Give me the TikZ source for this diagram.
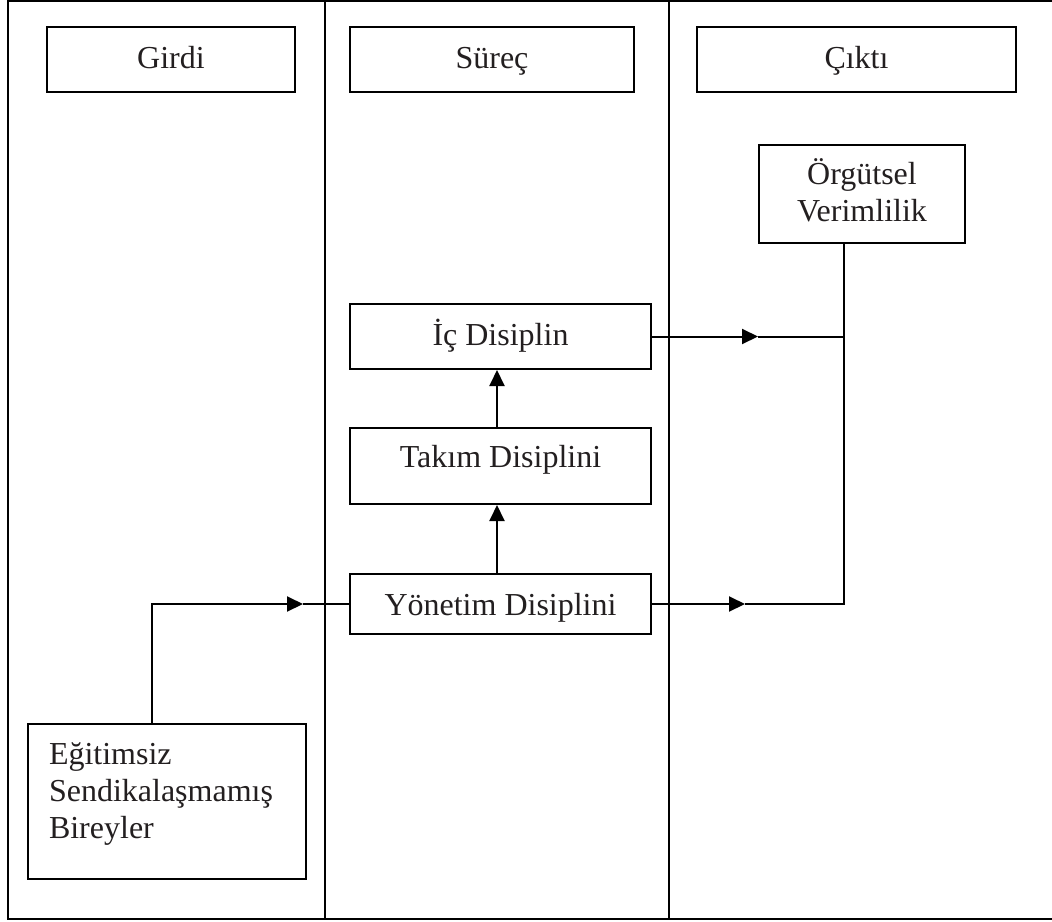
\documentclass[tikz,border=0pt]{standalone}
\usepackage{fontspec}
\setmainfont{Liberation Serif}
\usetikzlibrary{arrows.meta}
\definecolor{txt}{HTML}{231F20}
\begin{document}
\begin{tikzpicture}[x=1pt,y=-1pt,
  box/.style={draw, line width=2pt, text=txt, inner sep=0pt, align=center,
    font=\fontsize{32}{37}\selectfont},
  one/.style={box, text height=23pt, text depth=6pt},
  ln/.style={line width=2pt},
  arr/.style={line width=2pt, -{Triangle[length=16pt,width=15pt]}}]
\useasboundingbox (0,0) rectangle (1052,921);
\clip (0,0) rectangle (1052,921);
% frame and column lines
\draw[ln] (7.5,1) rectangle (1070,919);
\draw[ln] (325,1) -- (325,919);
\draw[ln] (669,1) -- (669,919);
% header boxes
\node[one, minimum width=248, minimum height=65] (girdi) at (171,59.5) {Girdi};
\node[one, minimum width=284, minimum height=65] (surec) at (492,59.5) {Süreç};
\node[one, minimum width=319, minimum height=65] (cikti) at (856.5,59.5) {Çıktı};
% process boxes
\node[box, minimum width=206, minimum height=98] (org) at (862,194) {Örgütsel\\Verimlilik\rule[-8pt]{0pt}{0pt}};
\node[one, minimum width=301, minimum height=65] (ic) at (500.5,336.5) {İç Disiplin};
\node[one, text depth=20pt, minimum width=301, minimum height=76] (takim) at (500.5,466) {Takım Disiplini};
\node[one, text depth=1pt, minimum width=301, minimum height=60] (yon) at (500.5,604) {Yönetim Disiplini};
\node[box, anchor=north west, minimum width=278, minimum height=155,
  text width=236, align=left, inner xsep=21pt, inner ysep=0pt] (egit) at (27,723)
  {\rule{0pt}{40pt}Eğitimsiz\\Sendikalaşmamış\\Bireyler\rule[-41pt]{0pt}{0pt}};
% connectors
\coordinate (t1) at (758,336.5);
\coordinate (j1) at (844,336.5);
\coordinate (t2) at (745,604);
\coordinate (t3) at (303,604);
\draw[arr] ([xshift=-3.5pt]yon.north) -- ([xshift=-3.5pt]takim.south);
\draw[arr] ([xshift=-3.5pt]takim.north) -- ([xshift=-3.5pt]ic.south);
\draw[arr] (ic.east) -- (t1);
\draw[ln] (t1) -- (j1);
\draw[arr] (yon.east) -- (t2);
\draw[ln] (t2) -| ([xshift=-18pt]org.south);
\draw[arr] ([xshift=125pt]egit.north west) |- (t3);
\draw[ln] (t3) -- (yon.west);
\end{tikzpicture}
\end{document}
